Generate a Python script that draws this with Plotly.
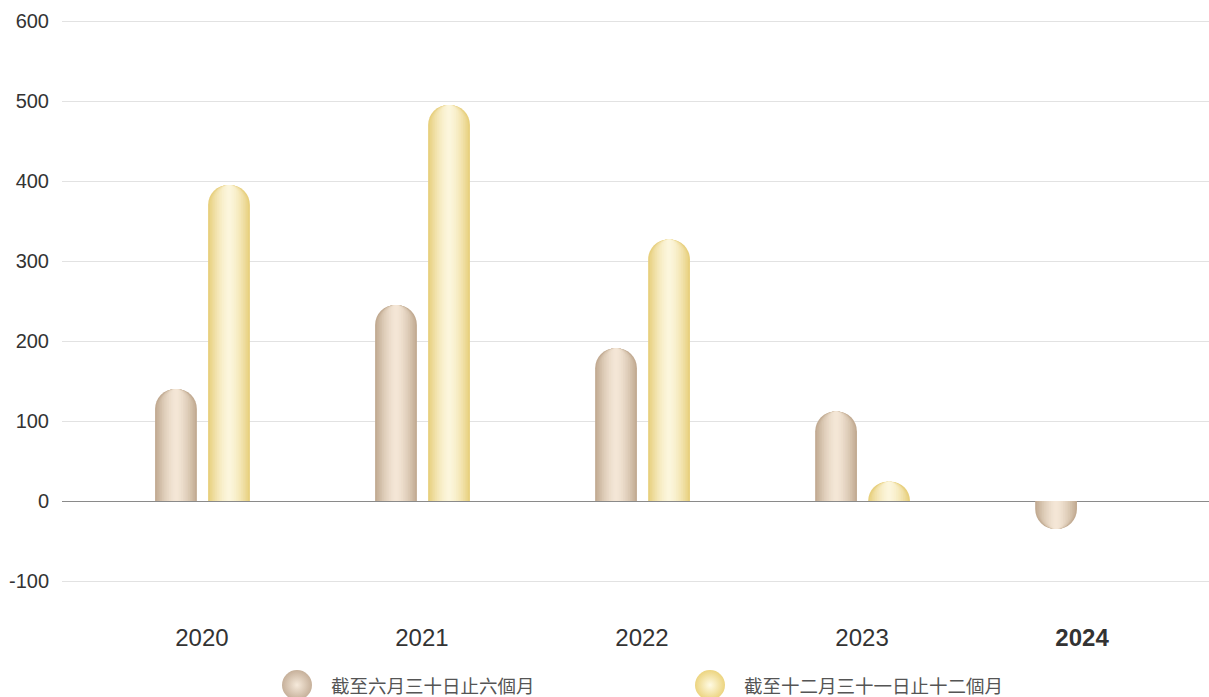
import plotly.graph_objects as go
import numpy as np

years = ["2020", "2021", "2022", "2023", "2024"]
tick_labels = ["2020", "2021", "2022", "2023", "<b>2024</b>"]
half_year = [140, 245, 191, 112, -35]
full_year = [395, 495, 327, 24, None]
series_names = ["截至六月三十日止六個月", "截至十二月三十一日止十二個月"]
y_ticks = [-100, 0, 100, 200, 300, 400, 500, 600]
y_tick_text = ["-100", "0", "100", "200", "300", "400", "500", "600"]

FONT = "Liberation Sans"
CJK = "Noto Sans CJK TC"

def hex2rgb(h):
    h = h.lstrip("#")
    return np.array([int(h[i:i + 2], 16) for i in (0, 2, 4)], dtype=float)

def mix(a, b, t):
    c = hex2rgb(a) + (hex2rgb(b) - hex2rgb(a)) * t
    return "rgb(%d,%d,%d)" % tuple(np.clip(c, 0, 255))

styles = [
    dict(values=half_year, edge="#c2ab92", center="#f5e8d8", mid=-0.118),
    dict(values=full_year, edge="#e8d07e", center="#fdf7de", mid=0.123),
]
BAR_W = 0.19
N = 12

fig = go.Figure()
for s in styles:
    for k in range(N):
        f = 1 - k / N
        t = 1 - f ** 1.6
        w = BAR_W * f
        fig.add_trace(go.Bar(
            x=years, y=s["values"], width=w, offset=s["mid"] - w / 2,
            marker=dict(color=mix(s["edge"], s["center"], t), line=dict(width=0),
                        cornerradius="50%"),
            showlegend=False, hoverinfo="skip" if k else "x+y",
        ))

# manual legend (large gradient circles)
TOP_M = 18
PAPER_H = 697 - TOP_M
BOT = 76
leg_x = [235, 648]
leg_colors = [("#c6b09a", "#f6eadb"), ("#ecd47f", "#fffbe4")]
for i, name in enumerate(series_names):
    fig.add_trace(go.Scatter(
        x=[leg_x[i]], y=[12], mode="markers", xaxis="x2", yaxis="y2",
        marker=dict(size=30, color=leg_colors[i][0],
                    gradient=dict(type="radial", color=leg_colors[i][1]),
                    line=dict(width=0)),
        showlegend=False, hoverinfo="skip", cliponaxis=False,
    ))
    fig.add_annotation(x=leg_x[i] + 32, y=12, xref="x2", yref="y2", text=name,
                       showarrow=False, xanchor="left", yanchor="middle",
                       font=dict(family=CJK, size=18.5, color="#555555"))

fig.update_layout(
    width=1209, height=697,
    margin=dict(l=62, r=0, t=TOP_M, b=0),
    paper_bgcolor="white", plot_bgcolor="white",
    barmode="overlay",
    showlegend=False,
    xaxis=dict(type="category", range=[-0.636, 4.577], tickvals=years, ticktext=tick_labels,
               showgrid=False, zeroline=False, showline=False, ticks="",
               tickfont=dict(family=FONT, size=24, color="#333333")),
    yaxis=dict(range=[-150, 603.75], domain=[BOT / PAPER_H, 1],
               tickvals=y_ticks, ticktext=y_tick_text,
               showgrid=True, gridcolor="#e2e2e2", gridwidth=1,
               zeroline=True, zerolinecolor="#8a8a8a", zerolinewidth=1,
               ticks="", ticklabelstandoff=12,
               tickfont=dict(family=FONT, size=20, color="#333333")),
    xaxis2=dict(domain=[0, 1], range=[0, 1147], visible=False, anchor="y2"),
    yaxis2=dict(domain=[0, BOT / PAPER_H], range=[0, BOT], visible=False, anchor="x2"),
)

fig.write_html("out.html", config={"displayModeBar": False},
               post_script="document.body.style.margin='0';")
